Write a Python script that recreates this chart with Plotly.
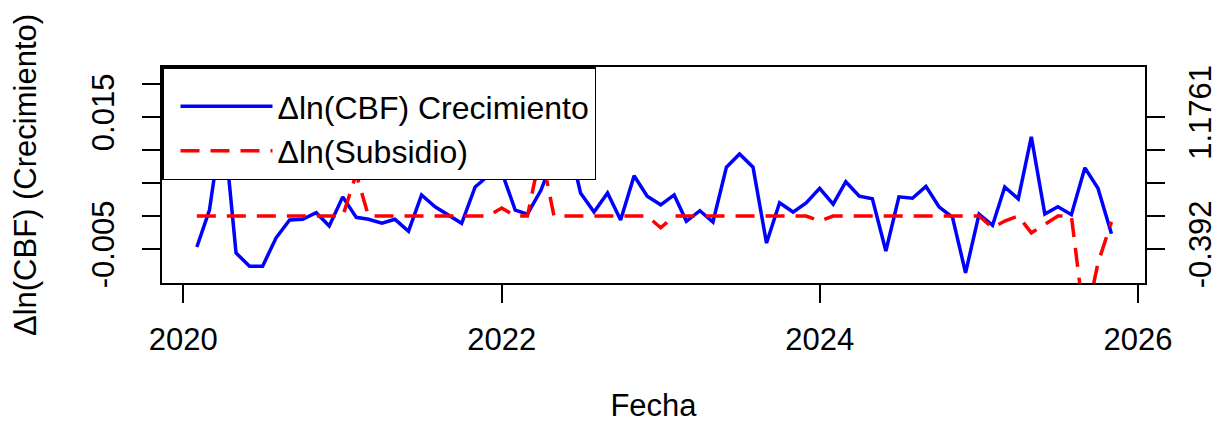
import pandas as pd
import plotly.graph_objects as go

# ---- data (monthly, Feb 2020 .. Nov 2025) ----
fechas = pd.date_range("2020-02-01", "2025-11-01", freq="MS")

crecimiento_cbf = [
    -0.0047, 0.0009, 0.0150, -0.0056, -0.0076, -0.0076, -0.0033, -0.0006, -0.0005, 0.0005,
    -0.0015, 0.0029, -0.0002, -0.0005, -0.0011, -0.0005, -0.0023, 0.0032, 0.0014, 0.0002,
    -0.0011, 0.0044, 0.0061, 0.0067, 0.0009, 0.0003, 0.0039, 0.0090, 0.0120, 0.0035,
    0.0006, 0.0035, -0.0006, 0.0061, 0.0030, 0.0017, 0.0032, -0.0008, 0.0008, -0.0009,
    0.0074, 0.0094, 0.0074, -0.0041, 0.0020, 0.0006, 0.0020, 0.0042, 0.0018, 0.0052,
    0.0030, 0.0026, -0.0053, 0.0029, 0.0027, 0.0045, 0.0014, -0.0002, -0.0086, 0.0003,
    -0.0014, 0.0044, 0.0026, 0.0120, 0.0003, 0.0014, 0.0002, 0.0073, 0.0042, -0.0027,
]

subsidio = [
    0.0, 0.0, 0.0, 0.0, 0.0, 0.0, 0.0, 0.0, 0.0, 0.0,
    0.0, 0.0, 0.50, 0.0, 0.0, 0.0, 0.0, 0.0, 0.0, 0.0,
    0.0, 0.0, 0.0, 0.095, 0.0, 0.0, 0.77, 0.0, 0.0, 0.0,
    0.0, 0.0, 0.0, 0.0, 0.0, -0.14, 0.0, 0.0, 0.0, 0.0,
    0.0, 0.0, 0.0, 0.0, 0.0, 0.0, 0.0, -0.06, 0.0, 0.0,
    0.0, 0.0, 0.0, 0.0, 0.0, 0.0, 0.0, 0.0, 0.0, 0.0,
    -0.14, -0.06, 0.0, -0.20, -0.10, 0.0, 0.0, -1.30, -0.56, -0.07,
]

x_tick_vals = ["2020-01-01", "2022-01-01", "2024-01-01", "2026-01-01"]
x_tick_text = ["2020", "2022", "2024", "2026"]
y1_tick_vals = [-0.005, 0.0, 0.005, 0.010, 0.015, 0.020]
y1_tick_text = ["-0.005", "", "", "", "0.015", ""]
y2_tick_vals = [-0.392, 0.0, 0.392, 0.784, 1.1761]
y2_tick_text = ["-0.392", "", "", "", "1.1761"]

FONT = "Liberation Sans, Arial, Helvetica, sans-serif"
FS = 31

fig = go.Figure()
fig.add_trace(go.Scatter(
    x=fechas, y=crecimiento_cbf, mode="lines", name="Δln(CBF) Crecimiento",
    line=dict(color="#0000FF", width=3.5), yaxis="y"))
fig.add_trace(go.Scatter(
    x=fechas, y=subsidio, mode="lines", name="Δln(Subsidio)",
    line=dict(color="#FF0000", width=3.5, dash="19px,11px"), yaxis="y2"))

axis_common = dict(showgrid=False, zeroline=False, showline=True, linecolor="black",
                   linewidth=1.8, ticks="outside", tickcolor="black", tickwidth=1.5,
                   ticklen=18, tickfont=dict(family=FONT, size=FS, color="black"))

fig.update_layout(
    width=1213, height=415,
    margin=dict(l=154, r=76, t=59, b=140, autoexpand=False),
    paper_bgcolor="white", plot_bgcolor="white",
    font=dict(family=FONT, size=FS, color="black"),
    xaxis=dict(type="date", range=["2019-11-13", "2026-01-17"],
               tickvals=x_tick_vals, ticktext=x_tick_text, mirror=True,
               title=dict(text="Fecha", standoff=48, font=dict(family=FONT, size=FS)),
               ticklabelstandoff=10, **axis_common),
    yaxis=dict(range=[-0.01015, 0.02258], tickvals=y1_tick_vals, ticktext=y1_tick_text,
               tickangle=-90, mirror=True,
               title=dict(text="Δln(CBF) (Crecimiento)", standoff=46,
                          font=dict(family=FONT, size=FS)),
               ticklabelstandoff=16, **axis_common),
    yaxis2=dict(range=[-0.796, 1.770], overlaying="y", side="right",
                tickvals=y2_tick_vals, ticktext=y2_tick_text, tickangle=-90,
                ticklabelstandoff=9, **axis_common),
    legend=dict(x=0, y=1, xanchor="left", yanchor="top", bgcolor="white",
                bordercolor="black", borderwidth=1.5, itemwidth=92, indentation=12,
                title=dict(text=" ", font=dict(family=FONT, size=8)),
                font=dict(family=FONT, size=32), tracegroupgap=0),
    showlegend=True,
)

fig.write_html("out.html")
